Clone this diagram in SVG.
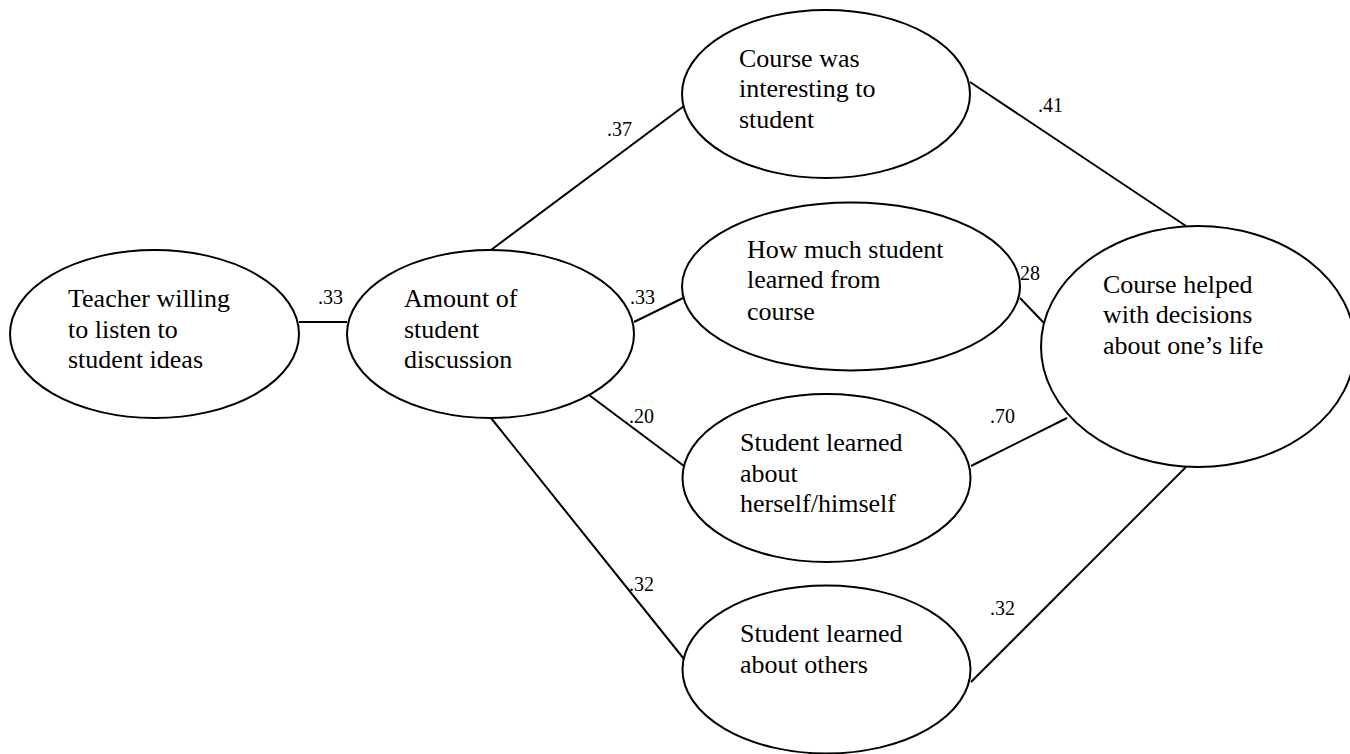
<svg xmlns="http://www.w3.org/2000/svg" width="1350" height="754" viewBox="0 0 1350 754">
<style>
.node ellipse{fill:#fff;stroke:#000;stroke-width:2}
.node text{font-size:26px;fill:#000}
.edges line{stroke:#000;stroke-width:2}
.lbl{font-size:20px;fill:#000}
</style>
<rect width="1350" height="754" fill="#fff"/>
<g font-family="'Liberation Serif', 'DejaVu Serif', serif">
<g class="edges" id="connectors">
<line x1="299" y1="322" x2="347" y2="322"/>
<line x1="491" y1="250" x2="684" y2="106"/>
<line x1="634" y1="322" x2="683" y2="298"/>
<line x1="589" y1="395" x2="684" y2="466"/>
<line x1="491" y1="418" x2="684" y2="659"/>
<line x1="970" y1="82" x2="1186" y2="226"/>
<line x1="1020" y1="298" x2="1044" y2="323"/>
<line x1="971" y1="466" x2="1067" y2="418"/>
<line x1="971" y1="682" x2="1186" y2="467"/>
<text class="lbl" x="318" y="304">.33</text>
<text class="lbl" x="607" y="136">.37</text>
<text class="lbl" x="630" y="304">.33</text>
<text class="lbl" x="1038" y="112">.41</text>
<text class="lbl" x="1015" y="280">.28</text>
<text class="lbl" x="629" y="423">.20</text>
<text class="lbl" x="990" y="423">.70</text>
<text class="lbl" x="629" y="591">.32</text>
<text class="lbl" x="990" y="615">.32</text>
</g>
<g class="node" id="teacher">
<ellipse cx="154.5" cy="334" rx="144.5" ry="84"/>
<text x="68" y="307">Teacher willing</text>
<text x="68" y="338">to listen to</text>
<text x="68" y="368">student ideas</text>
</g>
<g class="node" id="discussion">
<ellipse cx="490.5" cy="334" rx="143.5" ry="84"/>
<text x="404" y="307">Amount of</text>
<text x="404" y="338">student</text>
<text x="404" y="368">discussion</text>
</g>
<g class="node" id="interesting">
<ellipse cx="826" cy="94" rx="144" ry="84"/>
<text x="739" y="67">Course was</text>
<text x="739" y="97">interesting to</text>
<text x="739" y="128">student</text>
</g>
<g class="node" id="learned">
<ellipse cx="851" cy="286.5" rx="169" ry="84"/>
<text x="747" y="258">How much student</text>
<text x="747" y="288">learned from</text>
<text x="747" y="320">course</text>
</g>
<g class="node" id="self">
<ellipse cx="826.5" cy="478" rx="144" ry="84"/>
<text x="740" y="451">Student learned</text>
<text x="740" y="482">about</text>
<text x="740" y="512">herself/himself</text>
</g>
<g class="node" id="others">
<ellipse cx="826.5" cy="669.5" rx="144" ry="84"/>
<text x="740" y="642">Student learned</text>
<text x="740" y="673">about others</text>
</g>
<g class="node" id="decisions">
<ellipse cx="1198" cy="346.5" rx="157" ry="120.5"/>
<text x="1103" y="293">Course helped</text>
<text x="1103" y="323">with decisions</text>
<text x="1103" y="354">about one’s life</text>
</g>
</g>
</svg>
